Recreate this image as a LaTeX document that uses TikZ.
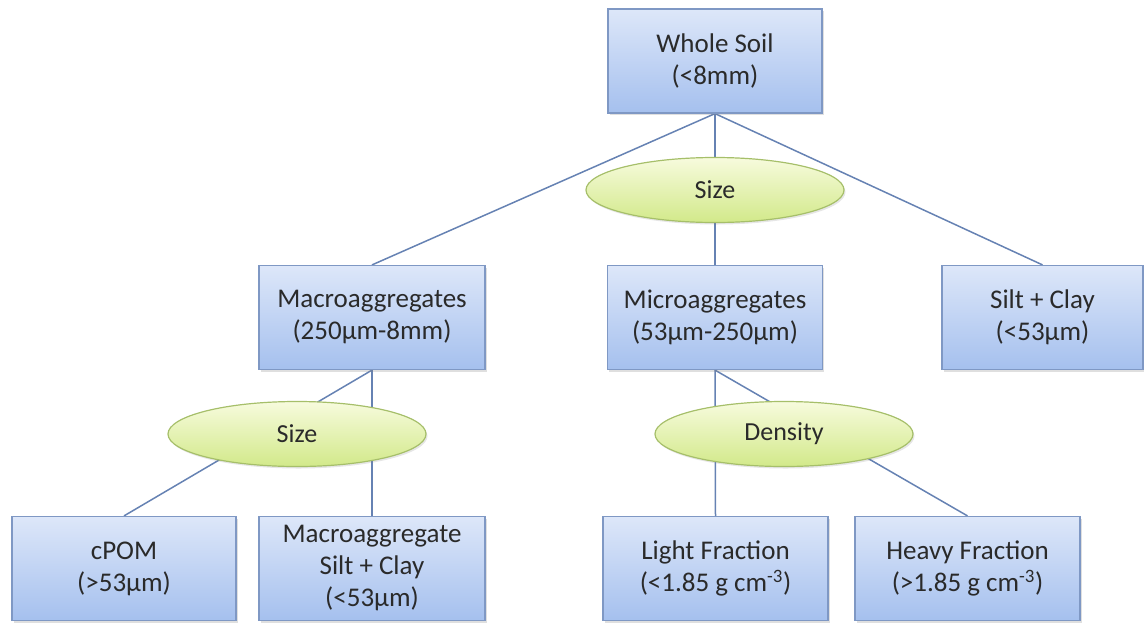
\documentclass[tikz,border=0pt]{standalone}
\usepackage{fontspec}
\setmainfont{Carlito}
\usetikzlibrary{shapes,shadows,backgrounds}

\definecolor{boxtop}{HTML}{DDE7F9}
\definecolor{boxbot}{HTML}{A5C0EE}
\definecolor{boxline}{HTML}{7F98C4}
\definecolor{elltop}{HTML}{F7FBDD}
\definecolor{ellbot}{HTML}{D2E98A}
\definecolor{ellline}{HTML}{A6BF6A}
\definecolor{linkline}{HTML}{6682B3}
\definecolor{labeltext}{HTML}{2A2A2A}

\begin{document}
\begin{tikzpicture}[x=1pt,y=-1pt,
    box node/.style={rectangle,draw=boxline,line width=1.2pt,top color=boxtop,bottom color=boxbot,
      minimum width=225pt,minimum height=104pt,inner sep=3pt,align=center,text=labeltext,
      font=\fontsize{27}{32}\selectfont,
      drop shadow={shadow xshift=1.5pt,shadow yshift=-2pt,opacity=0.25}},
    split node/.style={ellipse,draw=ellline,line width=1.2pt,top color=elltop,bottom color=ellbot,
      minimum width=258pt,minimum height=65pt,inner sep=0pt,text=labeltext,
      font=\fontsize{26}{30}\selectfont,
      drop shadow={shadow xshift=1.5pt,shadow yshift=-2pt,opacity=0.2}},
    link/.style={draw=linkline,line width=1.5pt}]

  \useasboundingbox (0,0) rectangle (1144,622);

  % boxes
  \node[box node,minimum width=214pt] (1) at (715,61) {Whole Soil\\(<8mm)};
  \node[box node,minimum width=226pt] (2) at (372,317.5) {Macroaggregates\\(250µm-8mm)};
  \node[box node,minimum width=215pt] (3) at (715,317.5) {Microaggregates\\(53µm-250µm)};
  \node[box node,minimum width=201pt] (4) at (1042.5,317.5) {Silt + Clay\\(<53µm)};
  \node[box node,minimum width=224pt] (5) at (124,568.5) {cPOM\\(>53µm)};
  \node[box node,minimum width=226pt] (6) at (372,568.5) {Macroaggregate\\Silt + Clay\\(<53µm)};
  \node[box node] (7) at (715.5,568.5) {Light Fraction\\(<1.85 g cm\textsuperscript{-3})};
  \node[box node] (8) at (967.5,568.5) {Heavy Fraction\\(>1.85 g cm\textsuperscript{-3})};

  % split criteria
  \node[split node] (a) at (715,190) {Size};
  \node[split node] (b) at (297,434) {Size};
  \node[split node] (c) at (784,434) {Density};

  \begin{scope}[on background layer]
    \path[link]
      (1.south) edge (2.north)
      (1.south) edge (3.north)
      (1.south) edge (4.north)
      (2.south) edge (5.north)
      (2.south) edge (6.north)
      (3.south) edge (7.north)
      (3.south) edge (8.north);
  \end{scope}

\end{tikzpicture}
\end{document}
